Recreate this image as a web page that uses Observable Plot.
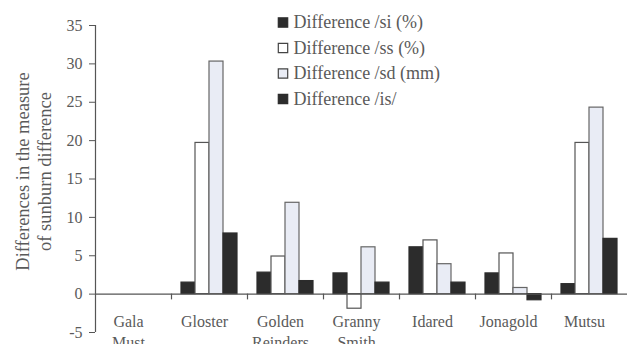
<!DOCTYPE html>
<html>
<head>
<meta charset="utf-8">
<script src="https://cdn.jsdelivr.net/npm/d3@7"></script>
<script src="https://cdn.jsdelivr.net/npm/@observablehq/plot@0.6"></script>
<style>
  body { margin: 0; background: #fff; }
  #chart svg { display: block; overflow: visible; }
  #chart svg text { font-family: "Liberation Serif", "DejaVu Serif", "Times New Roman", serif !important; }
</style>
</head>
<body>
<div id="chart"></div>
<script>
// Apple cultivars along the x axis
const categories = ["Gala\nMust", "Gloster", "Golden\nReinders", "Granny\nSmith", "Idared", "Jonagold", "Mutsu"];

// Series names, in legend order
const seriesNames = ["Difference /si (%)", "Difference /ss (%)", "Difference /sd (mm)", "Difference /is/"];

// Values per cultivar (Gala Must has no bars)
const si = [null, 1.5, 2.8, 2.7, 6.1, 2.7, 1.3];
const ss = [null, 19.7, 4.9, -1.9, 7.0, 5.3, 19.7];
const sd = [null, 30.3, 11.9, 6.1, 3.9, 0.8, 24.3];
const isVals = [null, 7.9, 1.7, 1.5, 1.5, -0.8, 7.2];

const yTicks = [-5, 0, 5, 10, 15, 20, 25, 30, 35];

const series = [si, ss, sd, isVals];
const ink = "#5a5a5a";
const serif = "Liberation Serif, DejaVu Serif, serif";
const looks = [
  {fill: "#2c2c2c", stroke: "#2c2c2c"},
  {fill: "#ffffff", stroke: "#555"},
  {fill: "#e9ecf5", stroke: "#666"},
  {fill: "#2c2c2c", stroke: "#2c2c2c"}
];

// Each cultivar occupies one unit on x; the four bars sit inside it
const PAD = 10 / 76;
const W = 14 / 76;

const rows = series.flatMap((vals, j) =>
  vals.map((v, i) => ({i, j, v})).filter(d => d.v != null));

const barMarks = looks.map((look, j) =>
  Plot.rectY(rows.filter(d => d.j === j), {
    x1: d => d.i + PAD + d.j * W,
    x2: d => d.i + PAD + (d.j + 1) * W,
    y1: 0,
    y2: "v",
    fill: look.fill,
    stroke: look.stroke,
    strokeWidth: 1.2
  }));

const legendMarks = seriesNames.flatMap((name, j) => [
  Plot.dot([name], {
    frameAnchor: "top-left", dx: 187.5, dy: -3 + 25.5 * j,
    symbol: "square", r: 5.3,
    fill: looks[j].fill, stroke: j === 0 || j === 3 ? "#2c2c2c" : "#444", strokeWidth: 1.2
  }),
  Plot.text([name], {
    frameAnchor: "top-left", dx: 198, dy: -3 + 25.5 * j,
    textAnchor: "start", lineAnchor: "middle",
    fontSize: 18, fontFamily: serif, fill: ink
  })
]);

const chart = Plot.plot({
  width: 627,
  height: 344,
  marginLeft: 95,
  marginRight: 0,
  marginTop: 25,
  marginBottom: 12,
  style: {color: ink, fontFamily: serif, background: "#fff"},
  x: {domain: [0, categories.length], axis: null},
  y: {domain: [-5, 35]},
  marks: [
    ...barMarks,
    Plot.ruleY([0], {stroke: "#555", strokeWidth: 1.2}),
    Plot.ruleX([0], {y1: -5, y2: 35, stroke: "#555", strokeWidth: 1.2}),
    Plot.ruleX(d3.range(1, categories.length), {y1: 0, y2: -0.75, stroke: "#555", strokeWidth: 1.2}),
    Plot.axisY({
      ticks: yTicks, tickSize: 6, tickPadding: 7, tickFormat: d => String(d),
      fontSize: 16, fontFamily: serif, label: null, stroke: "#555"
    }),
    Plot.text(categories, {
      x: (d, i) => i + 0.5, y: 0, dy: 18, dx: -5,
      lineAnchor: "top", lineHeight: 1.3,
      fontSize: 16, fontFamily: serif, fill: ink
    }),
    Plot.text(["Differences in the measure\nof sunburn difference"], {
      frameAnchor: "left", rotate: -90, dx: -63, dy: -7.5,
      textAnchor: "middle", lineAnchor: "middle",
      lineHeight: 1.19, fontSize: 18.5, fontFamily: serif, fill: ink
    }),
    ...legendMarks
  ]
});

document.getElementById("chart").append(chart);
</script>
</body>
</html>
